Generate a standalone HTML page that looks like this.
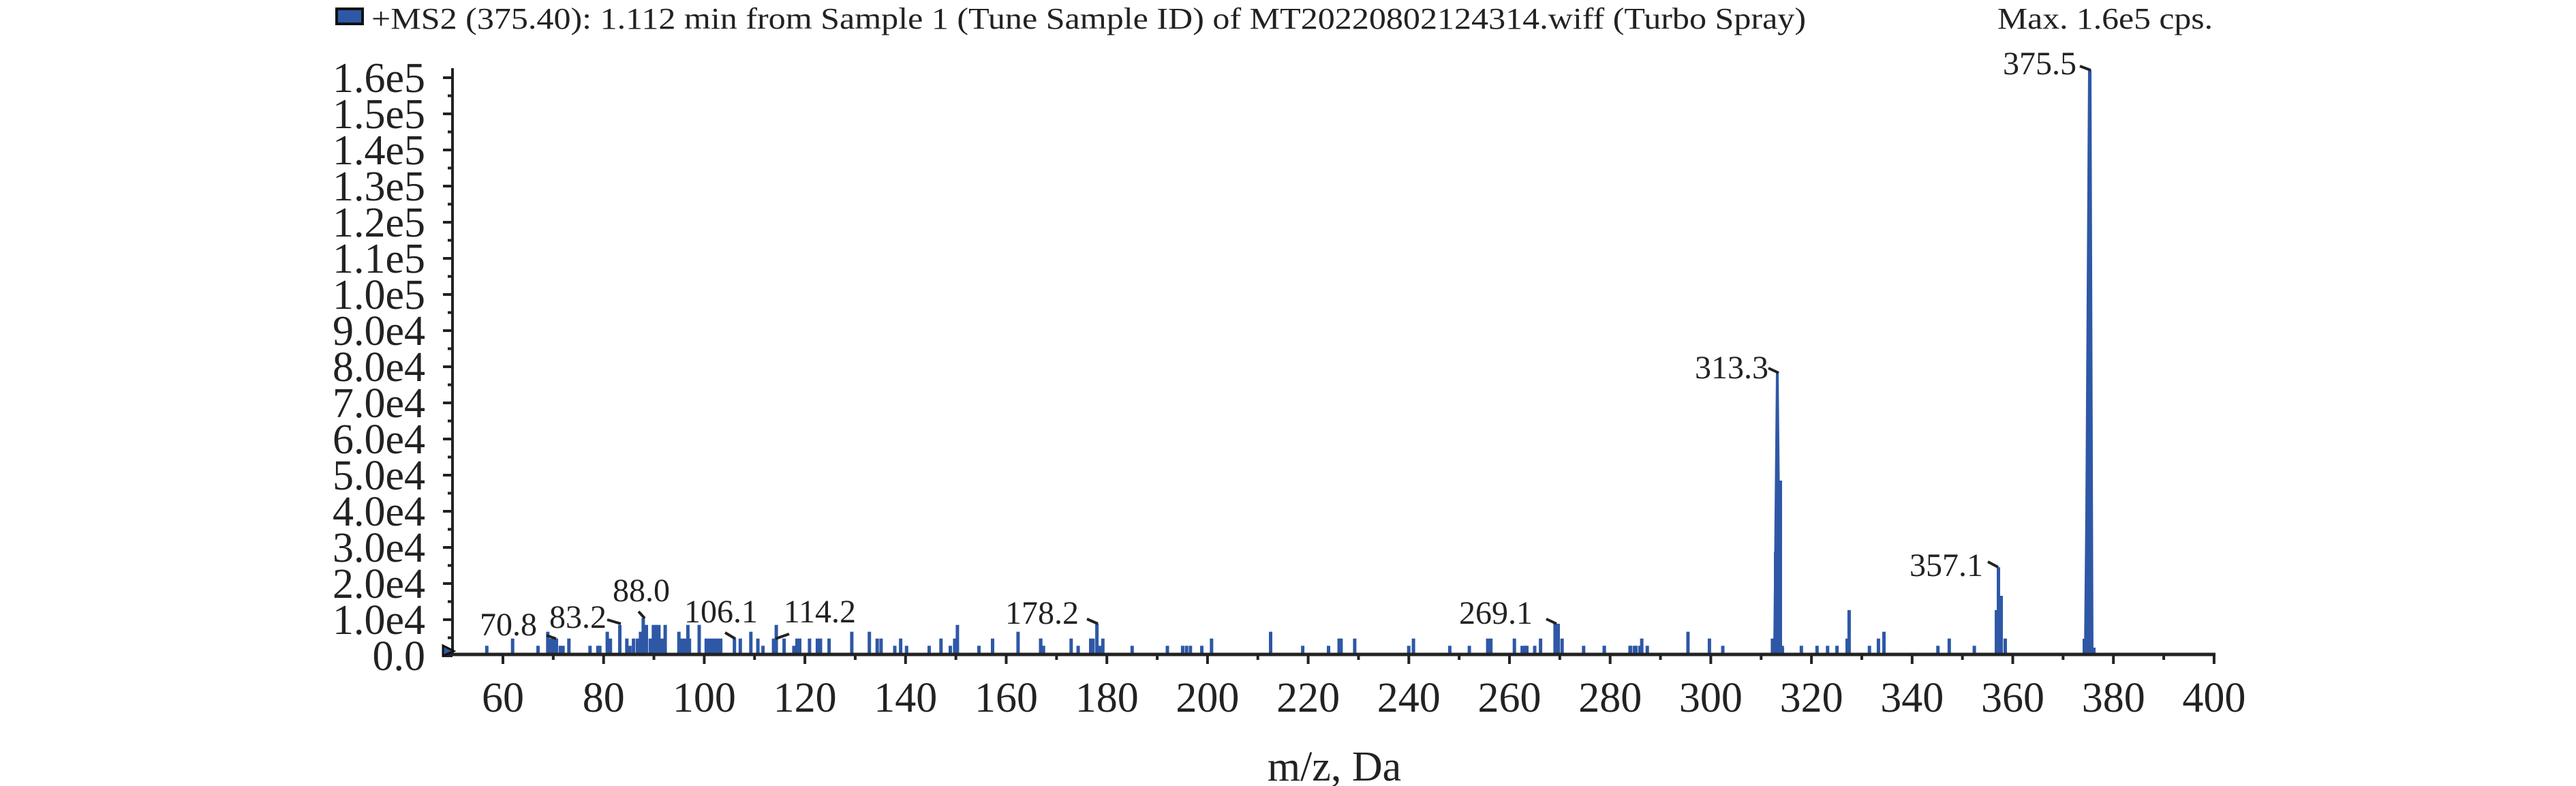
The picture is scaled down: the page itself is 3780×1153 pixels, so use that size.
<!DOCTYPE html>
<html><head><meta charset="utf-8"><style>
html,body{margin:0;padding:0;background:#fff;}
svg{display:block;}
text{font-family:"Liberation Serif",serif;fill:#222;}
</style></head><body>
<svg id="s" width="3780" height="1153" viewBox="0 0 3780 1153" xmlns="http://www.w3.org/2000/svg">
<rect x="494" y="13" width="38" height="22" fill="#2E58A6" stroke="#111" stroke-width="4"/>
<text x="545" y="42" font-size="44" textLength="2105" lengthAdjust="spacingAndGlyphs">+MS2 (375.40): 1.112 min from Sample 1 (Tune Sample ID) of MT20220802124314.wiff (Turbo Spray)</text>
<text x="2931" y="42" font-size="44" textLength="316" lengthAdjust="spacingAndGlyphs">Max. 1.6e5 cps.</text>
<g id="bars" fill="#2E58A6"></g>
<g fill="#2E58A6">
<polygon points="2602,960 2606,547 2610,547 2614,960"/>
<rect x="2610" y="705" width="5" height="255"/>
<rect x="2603" y="810" width="4" height="150"/>
<rect x="2599" y="937" width="6" height="23"/>
<rect x="2614" y="950" width="4" height="10"/>
<rect x="2930" y="832" width="5" height="128"/>
<rect x="2935" y="874" width="4" height="86"/>
<rect x="2927" y="895" width="4" height="65"/>
<rect x="2941" y="937" width="4" height="23"/>
<polygon points="3058,960 3060,750 3064,103 3069,103 3072,960"/>
<rect x="3056" y="937" width="3" height="23"/>
<rect x="3071" y="950" width="4" height="10"/>
</g>
<g id="axes" stroke="#222" fill="none"></g>
<g id="lab" font-size="62"></g>
<text x="1958" y="1145" font-size="62" text-anchor="middle">m/z, Da</text>
<g font-size="48" text-anchor="end">
<text x="788" y="932">70.8</text>
<text x="890" y="921">83.2</text>
<text x="983" y="882">88.0</text>
<text x="1112" y="913">106.1</text>
<text x="1256" y="913">114.2</text>
<text x="1583" y="915">178.2</text>
<text x="2249" y="915">269.1</text>
<text x="2595" y="555">313.3</text>
<text x="2910" y="845">357.1</text>
<text x="3047" y="109">375.5</text>
</g>
<g stroke="#222" stroke-width="4">
<line x1="802" y1="932" x2="816" y2="937"/>
<line x1="891" y1="909" x2="911" y2="915"/>
<line x1="937" y1="897" x2="946" y2="907"/>
<line x1="1064" y1="928" x2="1079" y2="937"/>
<line x1="1158" y1="930" x2="1138" y2="937"/>
<line x1="1595" y1="908" x2="1611" y2="915"/>
<line x1="2269" y1="908" x2="2284" y2="915"/>
<line x1="2595" y1="540" x2="2610" y2="547"/>
<line x1="2917" y1="824" x2="2932" y2="832"/>
<line x1="3052" y1="97" x2="3068" y2="103"/>
</g>
<polygon points="650,947 666,955 650,962" fill="#2E58A6" stroke="#111" stroke-width="3"/>
</svg>
<script>
var NS="http://www.w3.org/2000/svg";
function el(p,t,a,txt){var e=document.createElementNS(NS,t);for(var k in a)e.setAttribute(k,a[k]);if(txt!==undefined)e.textContent=txt;p.appendChild(e);return e;}
var bars=document.getElementById('bars');
var sets=[[650,[112,292,178,260,243,292,268,230,275,260,282,260,290,260,300,292,307,292,322,260,376,292,396,292,401,292,420,230,428,260,452,200,470,260,478,292,487,260,497,260,505,230,512,170,520,200,530,260,538,200,545,200,552,200,560,260,568,200,603,230,610,260,618,260,626,200,630,260,655,200,673,260,680,260,688,260,695,260,702,260,710,260,745,260,760,260,787,230,805,260,818,292,845,260,852,200,872,260,897,292,905,260,912,260,937,260,957,260,965,260,987,260,1045,230,1090,230,1110,260,1120,260,1155,292,1170,260,1185,292,1243,292,1273,260,1297,292,1308,260,1315,200,1370,292,1405,260,1470,230,1528,260,1535,292]],
[1500,[47,260,52,292,125,260,143,292,175,260,181,260,191,195,198,292,206,260,281,292,371,292,410,292,420,292,430,292,459,292,484,260,635,230,717,292,783,292,810,260,815,260,850,260,988,292,1000,260,1093,292,1143,292,1190,260,1198,260,1258,260,1278,292,1285,292,1290,292,1310,292,1325,260,1362,195,1370,195,1380,260,1435,292,1488,292,1555,292,1565,292]],
[2350,[7,292,73,292,88,292,98,292,103,260,117,292,221,230,276,260,310,292,437,260,462,292,511,292,551,292,578,292,602,292,628,260,633,135,685,292,708,260,722,230,860,292,889,260,953,292,1032,260]]];
sets.forEach(function(s){var o=s[0],a=s[1];for(var i=0;i<a.length;i+=2){var x=o+a[i]/1.742,t=850+a[i+1]/3;el(bars,'rect',{x:(x-2.5).toFixed(1),y:t.toFixed(1),width:5,height:(960-t).toFixed(1)});}});
var ax=document.getElementById('axes'),lab=document.getElementById('lab');
el(ax,'line',{x1:664,y1:100,x2:664,y2:962,'stroke-width':4});
el(ax,'line',{x1:650,y1:960,x2:3251,y2:960,'stroke-width':5});
for(var i=0;i<=32;i++){var y=962-i*26.5;var major=i%2==0;el(ax,'line',{x1:major?650:657,y1:y,x2:664,y2:y,'stroke-width':4});
if(major){var v=i/2;var s=v==0?'0.0':(v<10?v+'.0e4':(v/10).toFixed(1)+'e5');el(lab,'text',{x:624,y:y+21,'text-anchor':'end'},s);}}
for(var m=60;m<=400;m+=10){var x=738+(m-60)*7.385;var major=m%20==0;el(ax,'line',{x1:x,y1:960,x2:x,y2:major?974:968,'stroke-width':4});
if(major)el(lab,'text',{x:x,y:1044,'text-anchor':'middle'},String(m));}
</script>
</body></html>
